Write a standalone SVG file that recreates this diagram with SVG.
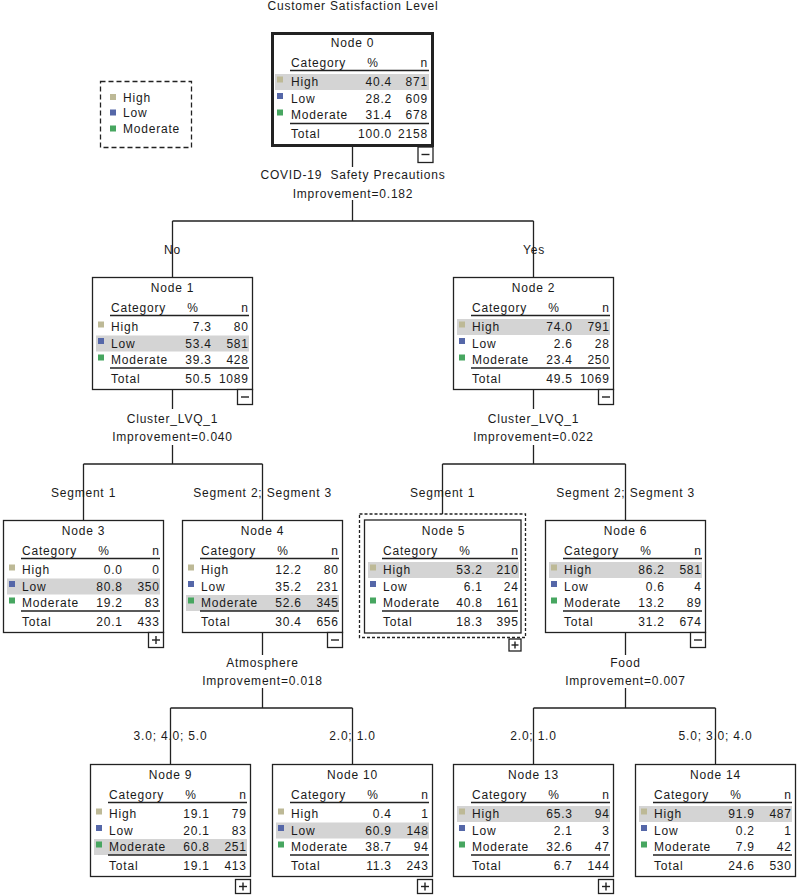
<svg xmlns="http://www.w3.org/2000/svg" width="798" height="895" viewBox="0 0 798 895">
<style>
.t{font-family:"Liberation Sans",Arial,sans-serif;font-size:12px;letter-spacing:0.8px;fill:#1a1a1a}
.m{text-anchor:middle}
.e{text-anchor:end}
.box{fill:#fff;stroke:#222;stroke-width:1.3}
.hl{fill:#d4d4d4}
.ln{stroke:#222;stroke-width:1.5}
.pm{stroke:#222;stroke-width:1.4}
.c{stroke:#222;stroke-width:1.3;fill:none}
.sH{fill:#bdb996}.sL{fill:#5567a8}.sM{fill:#47a660}
</style>
<rect width="798" height="895" fill="#fff"/>
<text class="t m" x="353" y="10">Customer Satisfaction Level</text>

<g id="legend">
<rect x="100.5" y="81.5" width="91" height="66" fill="none" stroke="#222" stroke-width="1.3" stroke-dasharray="5,3"/>
<rect class="sH" x="110" y="94" width="6" height="6"/><text class="t" x="123" y="101.5">High</text>
<rect class="sL" x="110" y="109.5" width="6" height="6"/><text class="t" x="123" y="117">Low</text>
<rect class="sM" x="110" y="125.5" width="6" height="6"/><text class="t" x="123" y="133">Moderate</text>
</g>

<g id="connectors" class="c">
<path d="M352.5 147V167M352.5 200V221M172.5 221H533.5M172.5 221V277M533.5 221V277"/>
<path d="M172.5 389V409M172.5 445V464M83.5 464H262.5M83.5 464V520M262.5 464V520"/>
<path d="M533.5 389V409M533.5 445V464M442.5 464H625.5M442.5 464V514M625.5 464V520"/>
<path d="M262.5 633V655M262.5 688V708M170.5 708H352.5M170.5 708V764M352.5 708V764"/>
<path d="M625.5 633V655M625.5 688V708M533.5 708H715.5M533.5 708V764M715.5 708V764"/>
</g>

<g id="labels">
<text class="t m" x="353" y="179">COVID-19&#160; Safety Precautions</text>
<text class="t m" x="353" y="198">Improvement=0.182</text>
<text class="t m" x="172.5" y="253.5">No</text>
<text class="t m" x="534" y="253.5">Yes</text>
<text class="t m" x="172.5" y="423">Cluster_LVQ_1</text>
<text class="t m" x="172.5" y="441">Improvement=0.040</text>
<text class="t m" x="533.5" y="423">Cluster_LVQ_1</text>
<text class="t m" x="533.5" y="441">Improvement=0.022</text>
<text class="t m" x="83.5" y="497">Segment 1</text>
<text class="t m" x="262.5" y="497">Segment 2; Segment 3</text>
<text class="t m" x="442.5" y="497">Segment 1</text>
<text class="t m" x="625.5" y="497">Segment 2; Segment 3</text>
<text class="t m" x="262.5" y="666.5">Atmosphere</text>
<text class="t m" x="262.5" y="685">Improvement=0.018</text>
<text class="t m" x="625.5" y="666.5">Food</text>
<text class="t m" x="625.5" y="685">Improvement=0.007</text>
<text class="t m" x="170.5" y="740">3.0; 4.0; 5.0</text>
<text class="t m" x="352.5" y="740">2.0; 1.0</text>
<text class="t m" x="533.5" y="740">2.0; 1.0</text>
<text class="t m" x="715.5" y="740">5.0; 3.0; 4.0</text>
</g>

<g id="node0" transform="translate(271,32)">
<rect x="1.5" y="1.5" width="160" height="112" fill="#fff" stroke="#222" stroke-width="3"/>
<text class="t m" x="81.5" y="15">Node 0</text>
<text class="t" x="20" y="35">Category</text><text class="t m" x="102" y="35">%</text><text class="t e" x="157" y="35">n</text>
<line class="ln" x1="19" y1="38.5" x2="158" y2="38.5"/>
<rect class="hl" x="4" y="42" width="154" height="16"/>
<rect class="sH" x="6" y="44.5" width="6" height="6"/><rect class="sL" x="6" y="61" width="6" height="6"/><rect class="sM" x="6" y="77.5" width="6" height="6"/>
<text class="t" x="20" y="54">High</text><text class="t e" x="121" y="54">40.4</text><text class="t e" x="157" y="54">871</text>
<text class="t" x="20" y="70.5">Low</text><text class="t e" x="121" y="70.5">28.2</text><text class="t e" x="157" y="70.5">609</text>
<text class="t" x="20" y="87">Moderate</text><text class="t e" x="121" y="87">31.4</text><text class="t e" x="157" y="87">678</text>
<line class="ln" x1="19" y1="91.5" x2="158" y2="91.5"/>
<text class="t" x="20" y="106">Total</text><text class="t e" x="121" y="106">100.0</text><text class="t e" x="157" y="106">2158</text>
<rect class="box" x="147" y="115" width="15" height="15.5"/><line class="pm" x1="150.5" y1="122.5" x2="158.5" y2="122.5"/>
</g>

<g id="node1" transform="translate(92,277)">
<rect class="box" x="0.5" y="0.5" width="160" height="112"/>
<text class="t m" x="80.5" y="15">Node 1</text>
<text class="t" x="19" y="35">Category</text><text class="t m" x="101" y="35">%</text><text class="t e" x="156.8" y="35">n</text>
<line class="ln" x1="18" y1="38.5" x2="157" y2="38.5"/>
<rect class="hl" x="4" y="58.5" width="153" height="16"/>
<rect class="sH" x="6" y="44.5" width="6" height="6"/><rect class="sL" x="6" y="61" width="6" height="6"/><rect class="sM" x="6" y="77.5" width="6" height="6"/>
<text class="t" x="19" y="54">High</text><text class="t e" x="119.8" y="54">7.3</text><text class="t e" x="156.8" y="54">80</text>
<text class="t" x="19" y="70.5">Low</text><text class="t e" x="119.8" y="70.5">53.4</text><text class="t e" x="156.8" y="70.5">581</text>
<text class="t" x="19" y="87">Moderate</text><text class="t e" x="119.8" y="87">39.3</text><text class="t e" x="156.8" y="87">428</text>
<line class="ln" x1="18" y1="91" x2="157" y2="91"/>
<text class="t" x="19" y="106">Total</text><text class="t e" x="119.8" y="106">50.5</text><text class="t e" x="156.8" y="106">1089</text>
<rect class="box" x="145.5" y="112.5" width="15" height="15"/><line class="pm" x1="149" y1="120" x2="157" y2="120"/>
</g>

<g id="node2" transform="translate(453,277)">
<rect class="box" x="0.5" y="0.5" width="160" height="112"/>
<text class="t m" x="80.5" y="15">Node 2</text>
<text class="t" x="19" y="35">Category</text><text class="t m" x="101" y="35">%</text><text class="t e" x="156.8" y="35">n</text>
<line class="ln" x1="18" y1="38.5" x2="157" y2="38.5"/>
<rect class="hl" x="4" y="42" width="153" height="16"/>
<rect class="sH" x="6" y="44.5" width="6" height="6"/><rect class="sL" x="6" y="61" width="6" height="6"/><rect class="sM" x="6" y="77.5" width="6" height="6"/>
<text class="t" x="19" y="54">High</text><text class="t e" x="119.8" y="54">74.0</text><text class="t e" x="156.8" y="54">791</text>
<text class="t" x="19" y="70.5">Low</text><text class="t e" x="119.8" y="70.5">2.6</text><text class="t e" x="156.8" y="70.5">28</text>
<text class="t" x="19" y="87">Moderate</text><text class="t e" x="119.8" y="87">23.4</text><text class="t e" x="156.8" y="87">250</text>
<line class="ln" x1="18" y1="91" x2="157" y2="91"/>
<text class="t" x="19" y="106">Total</text><text class="t e" x="119.8" y="106">49.5</text><text class="t e" x="156.8" y="106">1069</text>
<rect class="box" x="145.5" y="112.5" width="15" height="15"/><line class="pm" x1="149" y1="120" x2="157" y2="120"/>
</g>

<g id="node3" transform="translate(3,520)">
<rect class="box" x="0.5" y="0.5" width="160" height="112"/>
<text class="t m" x="80.5" y="15">Node 3</text>
<text class="t" x="19" y="35">Category</text><text class="t m" x="101" y="35">%</text><text class="t e" x="156.8" y="35">n</text>
<line class="ln" x1="18" y1="38.5" x2="157" y2="38.5"/>
<rect class="hl" x="4" y="58.5" width="153" height="16"/>
<rect class="sH" x="6" y="44.5" width="6" height="6"/><rect class="sL" x="6" y="61" width="6" height="6"/><rect class="sM" x="6" y="77.5" width="6" height="6"/>
<text class="t" x="19" y="54">High</text><text class="t e" x="119.8" y="54">0.0</text><text class="t e" x="156.8" y="54">0</text>
<text class="t" x="19" y="70.5">Low</text><text class="t e" x="119.8" y="70.5">80.8</text><text class="t e" x="156.8" y="70.5">350</text>
<text class="t" x="19" y="87">Moderate</text><text class="t e" x="119.8" y="87">19.2</text><text class="t e" x="156.8" y="87">83</text>
<line class="ln" x1="18" y1="91" x2="157" y2="91"/>
<text class="t" x="19" y="106">Total</text><text class="t e" x="119.8" y="106">20.1</text><text class="t e" x="156.8" y="106">433</text>
<rect class="box" x="145.5" y="112.5" width="15" height="15"/><line class="pm" x1="149" y1="120" x2="157" y2="120"/><line class="pm" x1="153" y1="116" x2="153" y2="124"/>
</g>

<g id="node4" transform="translate(182,520)">
<rect class="box" x="0.5" y="0.5" width="160" height="112"/>
<text class="t m" x="80.5" y="15">Node 4</text>
<text class="t" x="19" y="35">Category</text><text class="t m" x="101" y="35">%</text><text class="t e" x="156.8" y="35">n</text>
<line class="ln" x1="18" y1="38.5" x2="157" y2="38.5"/>
<rect class="hl" x="4" y="75" width="153" height="16"/>
<rect class="sH" x="6" y="44.5" width="6" height="6"/><rect class="sL" x="6" y="61" width="6" height="6"/><rect class="sM" x="6" y="77.5" width="6" height="6"/>
<text class="t" x="19" y="54">High</text><text class="t e" x="119.8" y="54">12.2</text><text class="t e" x="156.8" y="54">80</text>
<text class="t" x="19" y="70.5">Low</text><text class="t e" x="119.8" y="70.5">35.2</text><text class="t e" x="156.8" y="70.5">231</text>
<text class="t" x="19" y="87">Moderate</text><text class="t e" x="119.8" y="87">52.6</text><text class="t e" x="156.8" y="87">345</text>
<line class="ln" x1="18" y1="91" x2="157" y2="91"/>
<text class="t" x="19" y="106">Total</text><text class="t e" x="119.8" y="106">30.4</text><text class="t e" x="156.8" y="106">656</text>
<rect class="box" x="145.5" y="112.5" width="15" height="15"/><line class="pm" x1="149" y1="120" x2="157" y2="120"/>
</g>

<g id="node5" transform="translate(363,520)">
<rect x="-3.5" y="-6" width="166" height="123.5" fill="none" stroke="#222" stroke-width="1.3" stroke-dasharray="3,2"/>
<rect class="box" x="1.5" y="0" width="156.5" height="113"/>
<text class="t m" x="80.5" y="15">Node 5</text>
<text class="t" x="20" y="35">Category</text><text class="t m" x="102" y="35">%</text><text class="t e" x="155.8" y="35">n</text>
<line class="ln" x1="19" y1="38.5" x2="155" y2="38.5"/>
<rect class="hl" x="5" y="42" width="151" height="16"/>
<rect class="sH" x="7" y="44.5" width="6" height="6"/><rect class="sL" x="7" y="61" width="6" height="6"/><rect class="sM" x="7" y="77.5" width="6" height="6"/>
<text class="t" x="20" y="54">High</text><text class="t e" x="119.8" y="54">53.2</text><text class="t e" x="155.8" y="54">210</text>
<text class="t" x="20" y="70.5">Low</text><text class="t e" x="119.8" y="70.5">6.1</text><text class="t e" x="155.8" y="70.5">24</text>
<text class="t" x="20" y="87">Moderate</text><text class="t e" x="119.8" y="87">40.8</text><text class="t e" x="155.8" y="87">161</text>
<line class="ln" x1="19" y1="91" x2="155" y2="91"/>
<text class="t" x="20" y="106">Total</text><text class="t e" x="119.8" y="106">18.3</text><text class="t e" x="155.8" y="106">395</text>
<rect class="box" x="146" y="119" width="12" height="12"/><line class="pm" x1="148.5" y1="125" x2="155.5" y2="125"/><line class="pm" x1="152" y1="121.5" x2="152" y2="128.5"/>
</g>

<g id="node6" transform="translate(545,520)">
<rect class="box" x="0.5" y="0.5" width="160" height="112"/>
<text class="t m" x="80.5" y="15">Node 6</text>
<text class="t" x="19" y="35">Category</text><text class="t m" x="101" y="35">%</text><text class="t e" x="156.8" y="35">n</text>
<line class="ln" x1="18" y1="38.5" x2="157" y2="38.5"/>
<rect class="hl" x="4" y="42" width="153" height="16"/>
<rect class="sH" x="6" y="44.5" width="6" height="6"/><rect class="sL" x="6" y="61" width="6" height="6"/><rect class="sM" x="6" y="77.5" width="6" height="6"/>
<text class="t" x="19" y="54">High</text><text class="t e" x="119.8" y="54">86.2</text><text class="t e" x="156.8" y="54">581</text>
<text class="t" x="19" y="70.5">Low</text><text class="t e" x="119.8" y="70.5">0.6</text><text class="t e" x="156.8" y="70.5">4</text>
<text class="t" x="19" y="87">Moderate</text><text class="t e" x="119.8" y="87">13.2</text><text class="t e" x="156.8" y="87">89</text>
<line class="ln" x1="18" y1="91" x2="157" y2="91"/>
<text class="t" x="19" y="106">Total</text><text class="t e" x="119.8" y="106">31.2</text><text class="t e" x="156.8" y="106">674</text>
<rect class="box" x="145.5" y="112.5" width="15" height="15"/><line class="pm" x1="149" y1="120" x2="157" y2="120"/>
</g>

<g id="node9" transform="translate(90,764)">
<rect class="box" x="0.5" y="0.5" width="160" height="112"/>
<text class="t m" x="80.5" y="15">Node 9</text>
<text class="t" x="19" y="35">Category</text><text class="t m" x="101" y="35">%</text><text class="t e" x="156.8" y="35">n</text>
<line class="ln" x1="18" y1="38.5" x2="157" y2="38.5"/>
<rect class="hl" x="4" y="75" width="153" height="16"/>
<rect class="sH" x="6" y="44.5" width="6" height="6"/><rect class="sL" x="6" y="61" width="6" height="6"/><rect class="sM" x="6" y="77.5" width="6" height="6"/>
<text class="t" x="19" y="54">High</text><text class="t e" x="119.8" y="54">19.1</text><text class="t e" x="156.8" y="54">79</text>
<text class="t" x="19" y="70.5">Low</text><text class="t e" x="119.8" y="70.5">20.1</text><text class="t e" x="156.8" y="70.5">83</text>
<text class="t" x="19" y="87">Moderate</text><text class="t e" x="119.8" y="87">60.8</text><text class="t e" x="156.8" y="87">251</text>
<line class="ln" x1="18" y1="91" x2="157" y2="91"/>
<text class="t" x="19" y="106">Total</text><text class="t e" x="119.8" y="106">19.1</text><text class="t e" x="156.8" y="106">413</text>
<rect class="box" x="145.5" y="115.5" width="15" height="14"/><line class="pm" x1="149" y1="122.5" x2="157" y2="122.5"/><line class="pm" x1="153" y1="118.5" x2="153" y2="126.5"/>
</g>

<g id="node10" transform="translate(272,764)">
<rect class="box" x="0.5" y="0.5" width="160" height="112"/>
<text class="t m" x="80.5" y="15">Node 10</text>
<text class="t" x="19" y="35">Category</text><text class="t m" x="101" y="35">%</text><text class="t e" x="156.8" y="35">n</text>
<line class="ln" x1="18" y1="38.5" x2="157" y2="38.5"/>
<rect class="hl" x="4" y="58.5" width="153" height="16"/>
<rect class="sH" x="6" y="44.5" width="6" height="6"/><rect class="sL" x="6" y="61" width="6" height="6"/><rect class="sM" x="6" y="77.5" width="6" height="6"/>
<text class="t" x="19" y="54">High</text><text class="t e" x="119.8" y="54">0.4</text><text class="t e" x="156.8" y="54">1</text>
<text class="t" x="19" y="70.5">Low</text><text class="t e" x="119.8" y="70.5">60.9</text><text class="t e" x="156.8" y="70.5">148</text>
<text class="t" x="19" y="87">Moderate</text><text class="t e" x="119.8" y="87">38.7</text><text class="t e" x="156.8" y="87">94</text>
<line class="ln" x1="18" y1="91" x2="157" y2="91"/>
<text class="t" x="19" y="106">Total</text><text class="t e" x="119.8" y="106">11.3</text><text class="t e" x="156.8" y="106">243</text>
<rect class="box" x="145.5" y="115.5" width="15" height="14"/><line class="pm" x1="149" y1="122.5" x2="157" y2="122.5"/><line class="pm" x1="153" y1="118.5" x2="153" y2="126.5"/>
</g>

<g id="node13" transform="translate(453,764)">
<rect class="box" x="0.5" y="0.5" width="160" height="112"/>
<text class="t m" x="80.5" y="15">Node 13</text>
<text class="t" x="19" y="35">Category</text><text class="t m" x="101" y="35">%</text><text class="t e" x="156.8" y="35">n</text>
<line class="ln" x1="18" y1="38.5" x2="157" y2="38.5"/>
<rect class="hl" x="4" y="42" width="153" height="16"/>
<rect class="sH" x="6" y="44.5" width="6" height="6"/><rect class="sL" x="6" y="61" width="6" height="6"/><rect class="sM" x="6" y="77.5" width="6" height="6"/>
<text class="t" x="19" y="54">High</text><text class="t e" x="119.8" y="54">65.3</text><text class="t e" x="156.8" y="54">94</text>
<text class="t" x="19" y="70.5">Low</text><text class="t e" x="119.8" y="70.5">2.1</text><text class="t e" x="156.8" y="70.5">3</text>
<text class="t" x="19" y="87">Moderate</text><text class="t e" x="119.8" y="87">32.6</text><text class="t e" x="156.8" y="87">47</text>
<line class="ln" x1="18" y1="91" x2="157" y2="91"/>
<text class="t" x="19" y="106">Total</text><text class="t e" x="119.8" y="106">6.7</text><text class="t e" x="156.8" y="106">144</text>
<rect class="box" x="145.5" y="115.5" width="15" height="14"/><line class="pm" x1="149" y1="122.5" x2="157" y2="122.5"/><line class="pm" x1="153" y1="118.5" x2="153" y2="126.5"/>
</g>

<g id="node14" transform="translate(635,764)">
<rect class="box" x="0.5" y="0.5" width="160" height="112"/>
<text class="t m" x="80.5" y="15">Node 14</text>
<text class="t" x="19" y="35">Category</text><text class="t m" x="101" y="35">%</text><text class="t e" x="156.8" y="35">n</text>
<line class="ln" x1="18" y1="38.5" x2="157" y2="38.5"/>
<rect class="hl" x="4" y="42" width="153" height="16"/>
<rect class="sH" x="6" y="44.5" width="6" height="6"/><rect class="sL" x="6" y="61" width="6" height="6"/><rect class="sM" x="6" y="77.5" width="6" height="6"/>
<text class="t" x="19" y="54">High</text><text class="t e" x="119.8" y="54">91.9</text><text class="t e" x="156.8" y="54">487</text>
<text class="t" x="19" y="70.5">Low</text><text class="t e" x="119.8" y="70.5">0.2</text><text class="t e" x="156.8" y="70.5">1</text>
<text class="t" x="19" y="87">Moderate</text><text class="t e" x="119.8" y="87">7.9</text><text class="t e" x="156.8" y="87">42</text>
<line class="ln" x1="18" y1="91" x2="157" y2="91"/>
<text class="t" x="19" y="106">Total</text><text class="t e" x="119.8" y="106">24.6</text><text class="t e" x="156.8" y="106">530</text>
</g>
</svg>
